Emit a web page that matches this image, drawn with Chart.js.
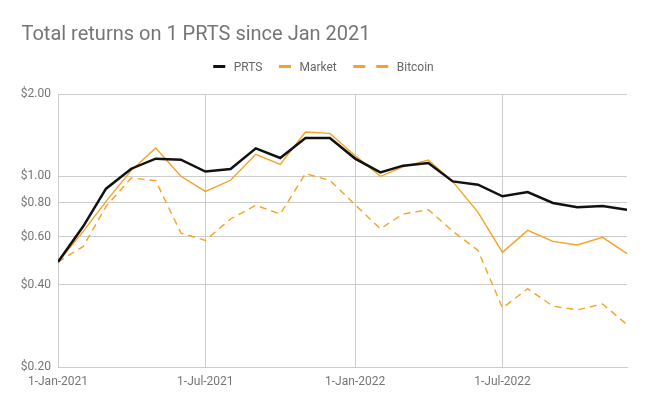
<!DOCTYPE html>
<html><head><meta charset="utf-8">
<script src="https://cdn.jsdelivr.net/npm/chart.js@4.4.1/dist/chart.umd.min.js"></script>
<style>html,body{margin:0;padding:0;background:#fff}#wrap{width:648px;height:409px;position:relative}</style>
</head><body><div id="wrap"><canvas id="c"></canvas></div>
<script>
const titleText = 'Total returns on 1 PRTS since Jan 2021';
const seriesNames = ['PRTS', 'Market', 'Bitcoin'];
const months = ['2021-01-01','2021-02-01','2021-03-01','2021-04-01','2021-05-01','2021-06-01',
  '2021-07-01','2021-08-01','2021-09-01','2021-10-01','2021-11-01','2021-12-01',
  '2022-01-01','2022-02-01','2022-03-01','2022-04-01','2022-05-01','2022-06-01',
  '2022-07-01','2022-08-01','2022-09-01','2022-10-01','2022-11-01','2022-12-01'];
const prts    = [0.485,0.655,0.90,1.065,1.159,1.149,1.04,1.062,1.265,1.166,1.38,1.38,
                 1.16,1.033,1.093,1.118,0.957,0.931,0.844,0.875,0.798,0.769,0.777,0.754];
const market  = [0.485,0.628,0.809,1.05,1.268,0.999,0.88,0.966,1.202,1.105,1.452,1.435,
                 1.189,0.999,1.081,1.146,0.955,0.737,0.526,0.633,0.577,0.560,0.597,0.520];
const bitcoin = [0.485,0.553,0.775,0.985,0.963,0.619,0.582,0.697,0.782,0.727,1.022,0.965,
                 0.786,0.642,0.727,0.754,0.628,0.535,0.329,0.387,0.334,0.324,0.340,0.286];
const xTickDates  = ['2021-01-01','2021-07-01','2022-01-01','2022-07-01'];
const xTickLabels = ['1-Jan-2021','1-Jul-2021','1-Jan-2022','1-Jul-2022'];
const yTicks = [0.2, 0.4, 0.6, 0.8, 1.0, 2.0];

const BLACK = '#111111', ORANGE = '#f4a324', GRID = '#cccccc', TEXT = '#757575';
const FONT = 'Roboto, "Open Sans", sans-serif';
const day = d => (Date.parse(d + 'T00:00:00Z') - Date.parse(months[0] + 'T00:00:00Z')) / 864e5;
const pts = arr => months.map((m, i) => ({ x: day(m), y: arr[i] }));

const headerPlugin = {
  id: 'header',
  afterDraw(chart) {
    const ctx = chart.ctx;
    ctx.save();
    ctx.fillStyle = TEXT;
    ctx.font = '20px ' + FONT;
    ctx.textBaseline = 'alphabetic';
    ctx.textAlign = 'left';
    ctx.fillText(titleText, 21.5, 40);
    // legend
    ctx.font = '12px ' + FONT;
    const items = chart.data.datasets.map(ds => ({
      label: ds.label, color: ds.borderColor, dashed: !!(ds.borderDash && ds.borderDash.length)
    }));
    const markW = it => it.dashed ? 35 : 12;
    const gapMT = 8.5, gapItems = 16.5;
    let total = 0;
    items.forEach((it, i) => {
      total += markW(it) + gapMT + ctx.measureText(it.label).width + (i < items.length - 1 ? gapItems : 0);
    });
    let x = 323.5 - total / 2;
    const yc = 66.5;
    items.forEach(it => {
      ctx.fillStyle = it.color;
      if (it.dashed) {
        ctx.fillRect(x, yc - 1.5, 12, 3);
        ctx.fillRect(x + 23, yc - 1.5, 12, 3);
      } else {
        ctx.fillRect(x, yc - 1.5, 12, 3);
      }
      x += markW(it) + gapMT;
      ctx.fillStyle = '#666666';
      ctx.fillText(it.label, x, 70.5);
      x += ctx.measureText(it.label).width + gapItems;
    });
    ctx.restore();
  }
};

new Chart(document.getElementById('c'), {
  type: 'line',
  data: {
    datasets: [
      { label: seriesNames[0], data: pts(prts), borderColor: BLACK, backgroundColor: BLACK, borderWidth: 2.5, pointRadius: 0, tension: 0 },
      { label: seriesNames[1], data: pts(market), borderColor: ORANGE, backgroundColor: ORANGE, borderWidth: 1.4, pointRadius: 0, tension: 0 },
      { label: seriesNames[2], data: pts(bitcoin), borderColor: ORANGE, backgroundColor: ORANGE, borderWidth: 1.4, borderDash: [7, 5], pointRadius: 0, tension: 0 }
    ]
  },
  plugins: [headerPlugin],
  options: {
    responsive: true,
    maintainAspectRatio: false,
    animation: false,
    layout: { padding: { top: 94, left: 0, right: 21, bottom: 0 } },
    plugins: { legend: { display: false }, title: { display: false }, tooltip: { enabled: false } },
    scales: {
      x: {
        type: 'linear',
        min: day(months[0]),
        max: day(months[months.length - 1]),
        afterBuildTicks: s => { s.ticks = xTickDates.map(d => ({ value: day(d) })); },
        afterFit: s => { s.height = 42; },
        ticks: {
          autoSkip: false, maxRotation: 0, padding: 8,
          color: TEXT, font: { family: FONT, size: 12 },
          callback: (v) => { const i = xTickDates.findIndex(d => day(d) === v); return i >= 0 ? xTickLabels[i] : ''; }
        },
        grid: { color: GRID, drawTicks: false, lineWidth: 1 },
        border: { display: true, color: GRID }
      },
      y: {
        type: 'logarithmic',
        min: yTicks[0],
        max: yTicks[yTicks.length - 1],
        afterBuildTicks: s => { s.ticks = yTicks.map(v => ({ value: v })); },
        afterFit: s => { s.width = 58; },
        ticks: {
          autoSkip: false, padding: 7,
          color: TEXT, font: { family: FONT, size: 12 },
          callback: v => '$' + Number(v).toFixed(2)
        },
        grid: { color: GRID, drawTicks: false, lineWidth: 1 },
        border: { display: true, color: GRID }
      }
    }
  }
});
</script>
</body></html>
